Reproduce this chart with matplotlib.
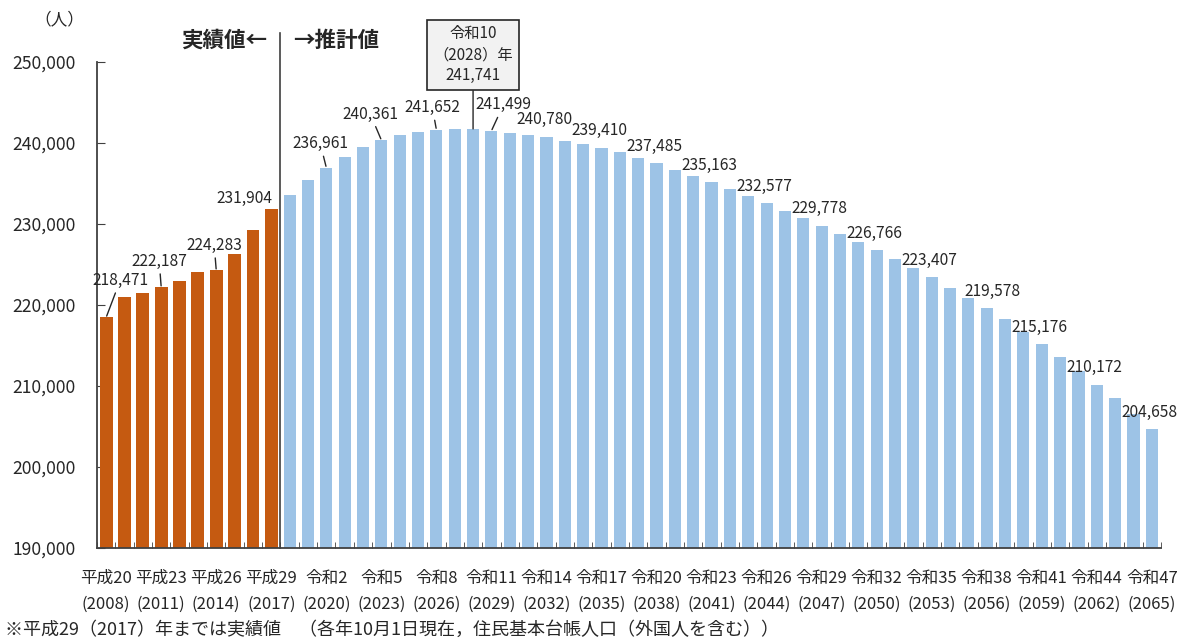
import matplotlib
matplotlib.use('Agg')
import matplotlib.pyplot as plt
from matplotlib.ticker import StrMethodFormatter, FixedLocator

plt.rcParams['font.family'] = ['Noto Sans CJK JP', 'DejaVu Sans']

# 人口（各年10月1日現在）
years = list(range(2008, 2066))
actual = [218471, 221010, 221500, 222187, 222980, 224090, 224283, 226270, 229310, 231904]
forecast = [233620, 235380, 236961, 238300, 239500, 240361, 240960, 241340, 241652, 241720,
            241741, 241499, 241250, 240950, 240780, 240250, 239850, 239410, 238850, 238150,
            237485, 236700, 235950, 235163, 234300, 233400, 232577, 231630, 230800, 229778,
            228750, 227800, 226766, 225650, 224580, 223407, 222150, 220850, 219578, 218250,
            216700, 215176, 213550, 211850, 210172, 208500, 206600, 204658]
population = actual + forecast

era_labels = ['平成20', '平成23', '平成26', '平成29', '令和2', '令和5', '令和8', '令和11',
              '令和14', '令和17', '令和20', '令和23', '令和26', '令和29', '令和32', '令和35',
              '令和38', '令和41', '令和44', '令和47']
year_labels = ['2008', '2011', '2014', '2017', '2020', '2023', '2026', '2029', '2032', '2035',
               '2038', '2041', '2044', '2047', '2050', '2053', '2056', '2059', '2062', '2065']

txt = '#262626'
fig = plt.figure(figsize=(11.89, 6.41), dpi=100)
ax = fig.add_axes([97 / 1189, 93 / 641, 1064 / 1189, 486 / 641])

n_act = len(actual)
x_act = list(range(n_act))
x_fc = list(range(n_act, len(population)))
ax.bar(x_act, actual, width=0.7, color='#C55A11', zorder=2)
ax.bar(x_fc, forecast, width=0.66, color='#9DC3E6', zorder=2)

ax.set_xlim(-0.5, len(population) - 0.5)
ax.set_ylim(190000, 250000)
ax.set_yticks(range(190000, 250001, 10000))
ax.yaxis.set_major_formatter(StrMethodFormatter('{x:,.0f}'))

tick_pos = [years.index(int(y)) for y in year_labels]
ax.set_xticks(tick_pos)
ax.set_xticklabels([e + '\n(' + y + ')' for e, y in zip(era_labels, year_labels)],
                   fontsize=12, color=txt, linespacing=1.7)
ax.xaxis.set_minor_locator(FixedLocator([i - 0.5 for i in range(len(population) + 1)]))
ax.tick_params(axis='x', which='major', length=0, pad=16)
ax.tick_params(axis='x', which='minor', direction='in', length=4, color='#404040')
ax.tick_params(axis='y', direction='in', length=6, pad=15.5, labelsize=12.6,
               labelcolor=txt, color='#404040')

for s in ['top', 'right']:
    ax.spines[s].set_visible(False)
for s in ['left', 'bottom']:
    ax.spines[s].set_color('#404040')
    ax.spines[s].set_linewidth(1.3)
    ax.spines[s].set_zorder(3)

# 実績／推計の区切り
ax.axvline(n_act - 0.5, ymin=0, ymax=1.06, color='#404040', lw=1.2, clip_on=False, zorder=3)
ax.annotate('実績値←', xy=(n_act - 0.5, 250000), xytext=(-13, 22), textcoords='offset pixels',
            ha='right', va='center', fontsize=15.5, fontweight='bold', color=txt,
            annotation_clip=False)
ax.annotate('→推計値', xy=(n_act - 0.5, 250000), xytext=(13, 22), textcoords='offset pixels',
            ha='left', va='center', fontsize=15.5, fontweight='bold', color=txt,
            annotation_clip=False)
ax.annotate('（人）', xy=(0, 1), xycoords='axes fraction', xytext=(-38, 42),
            textcoords='offset pixels', ha='center', va='center', fontsize=12, color=txt,
            annotation_clip=False)

# データラベル（位置オフセットは画素、リーダー線の有無）
label_style = {0: (14, 37, True), 3: (-2, 26, True), 6: (-2, 25, True), 9: (-27, 10, False),
               12: (-6, 24, True), 15: (-11, 26, True), 18: (-4, 22, True), 21: (12, 26, True),
               48: (6, 17, False)}
peak = population.index(max(population))
for i in range(0, len(population), 3):
    dx, dy, leader = label_style.get(i, (-2, 17, False))
    arrow = dict(arrowstyle='-', color='#262626', lw=1, shrinkA=1, shrinkB=1) if leader else None
    ax.annotate(f'{population[i]:,}', xy=(i, population[i]), xytext=(dx, dy),
                textcoords='offset pixels', ha='center', va='center', fontsize=11.2,
                color=txt, arrowprops=arrow, zorder=4)

ax.annotate(f'令和10\n（{years[peak]}）年\n{population[peak]:,}', xy=(peak, population[peak]),
            xytext=(0, 74), textcoords='offset pixels', ha='center', va='center',
            fontsize=11, color=txt, linespacing=1.3, annotation_clip=False,
            bbox=dict(boxstyle='square,pad=0.38', fc='#F2F2F2', ec='#262626', lw=1.2),
            arrowprops=dict(arrowstyle='-', color='#262626', lw=1, shrinkA=0, shrinkB=0))

fig.text(5 / 1189, 1 - 630 / 641,
         '※平成29（2017）年までは実績値　（各年10月1日現在，住民基本台帳人口（外国人を含む））',
         ha='left', va='center', fontsize=13, color=txt)

fig.savefig('out.png', dpi=100)
